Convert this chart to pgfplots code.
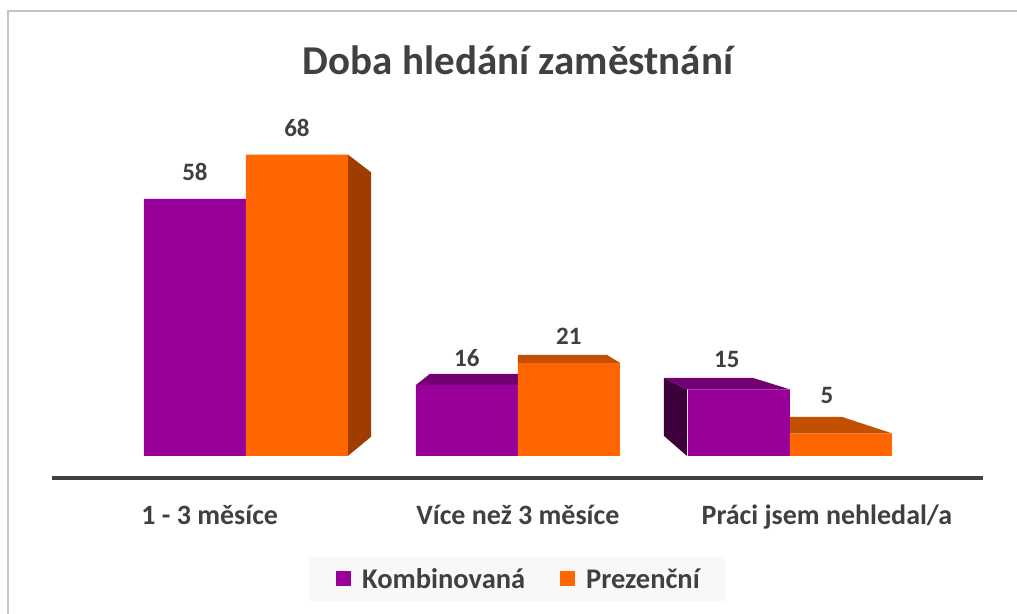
\documentclass[border=0pt]{standalone}
\usepackage{fontspec}
\setmainfont{Carlito}
\usepackage{pgfplots}
\usepackage{pgfplotstable}
\pgfplotsset{compat=1.18}
\definecolor{kombi}{HTML}{990099}
\definecolor{kombitop}{HTML}{730073}
\definecolor{kombiside}{HTML}{3D003D}
\definecolor{prez}{HTML}{FF6600}
\definecolor{preztop}{HTML}{C25000}
\definecolor{prezside}{HTML}{A03C00}
\definecolor{txt}{HTML}{404040}
\definecolor{framec}{HTML}{C4C4C4}
\definecolor{legbg}{HTML}{F8F8F8}

% x y and label shifts (bp)
\pgfplotstableread{
x y dx dy
0 58 0 0
1 16 0 0
2 15 -12 4
}\tkombi
\pgfplotstableread{
x y dx dy
0 68 0 0
1 21 0 0
2 5 -14 12
}\tprez

\begin{document}
\begin{tikzpicture}
\path[use as bounding box] (0bp,0bp) rectangle (1017bp,614bp);
\draw[framec, line width=2bp] (8bp,-10bp) -- (8bp,603bp) -- (1030bp,603bp);
\node[anchor=base, font=\bfseries\fontsize{41bp}{41bp}\selectfont, text=txt] at (518bp,539bp) {Doba hledání zaměstnání};

% 3D faces of the bars (same axis geometry, drawn first)
\begin{axis}[
  at={(52bp,136bp)}, anchor=south west,
  scale only axis, width=931bp, height=354.4bp,
  xmin=-0.713, xmax=2.71, ymin=-5, ymax=75,
  hide axis,
]
\addplot[fill=prezside, draw=none] coordinates {(0.375,68) (0.46,64) (0.46,4.3) (0.375,0)};
\addplot[fill=kombitop, draw=none] coordinates {(0.625,16) (0.676,18.5) (1.0,18.5) (1.0,16)};
\addplot[fill=preztop, draw=none] coordinates {(1.0,21) (1.0,22.8) (1.327,22.8) (1.375,21)};
\addplot[fill=kombiside, draw=none] coordinates {(1.621,15) (1.537,17.6) (1.537,4.5) (1.621,0)};
\addplot[fill=kombitop, draw=none] coordinates {(1.621,15) (1.537,17.6) (1.864,17.6) (2.0,15)};
\addplot[fill=preztop, draw=none] coordinates {(2.0,5) (2.0,8.8) (2.191,8.8) (2.379,5)};
\end{axis}

\begin{axis}[
  at={(52bp,136bp)}, anchor=south west,
  scale only axis, width=931bp, height=354.4bp,
  xmin=-0.713, xmax=2.71, ymin=-5, ymax=75,
  axis x line*=bottom, axis y line=none,
  x axis line style={line width=4bp, txt},
  ybar=0pt, bar width=102bp,
  xtick={-0.133,1,2.136},
  xticklabels={1 - 3 měsíce, Více než 3 měsíce, Práci jsem nehledal/a},
  major tick length=0pt,
  xticklabel style={anchor=base, yshift=-46bp, text=txt,
    font=\bfseries\fontsize{28bp}{28bp}\selectfont},
  ytick=\empty,
  /pgf/number format/assume math mode=true,
  nodes near coords,
  visualization depends on={\thisrow{dx}\as\dx},
  visualization depends on={\thisrow{dy}\as\dy},
  every node near coord/.append style={font=\bfseries\fontsize{25bp}{25bp}\selectfont,
    text=txt, inner sep=0pt, anchor=south, yshift=18bp+\dy bp, xshift=\dx bp},
  legend style={at={(0.5,-0.285)}, anchor=center, fill=legbg, draw=none,
    legend columns=2, text=txt, font=\bfseries\fontsize{28.5bp}{28.5bp}\selectfont,
    inner xsep=24bp, inner ysep=9bp,
    /tikz/every even column/.append style={column sep=30bp}},
  legend image code/.code={\path (-3bp,0bp); \fill[#1] (0bp,-7bp) rectangle (15bp,8bp); \path (24bp,0bp);},
]
\addplot[fill=kombi, draw=none] table[x=x, y=y] {\tkombi};
\addplot[fill=prez, draw=none] table[x=x, y=y] {\tprez};
\legend{Kombinovaná, Prezenční}
\end{axis}
\end{tikzpicture}
\end{document}
